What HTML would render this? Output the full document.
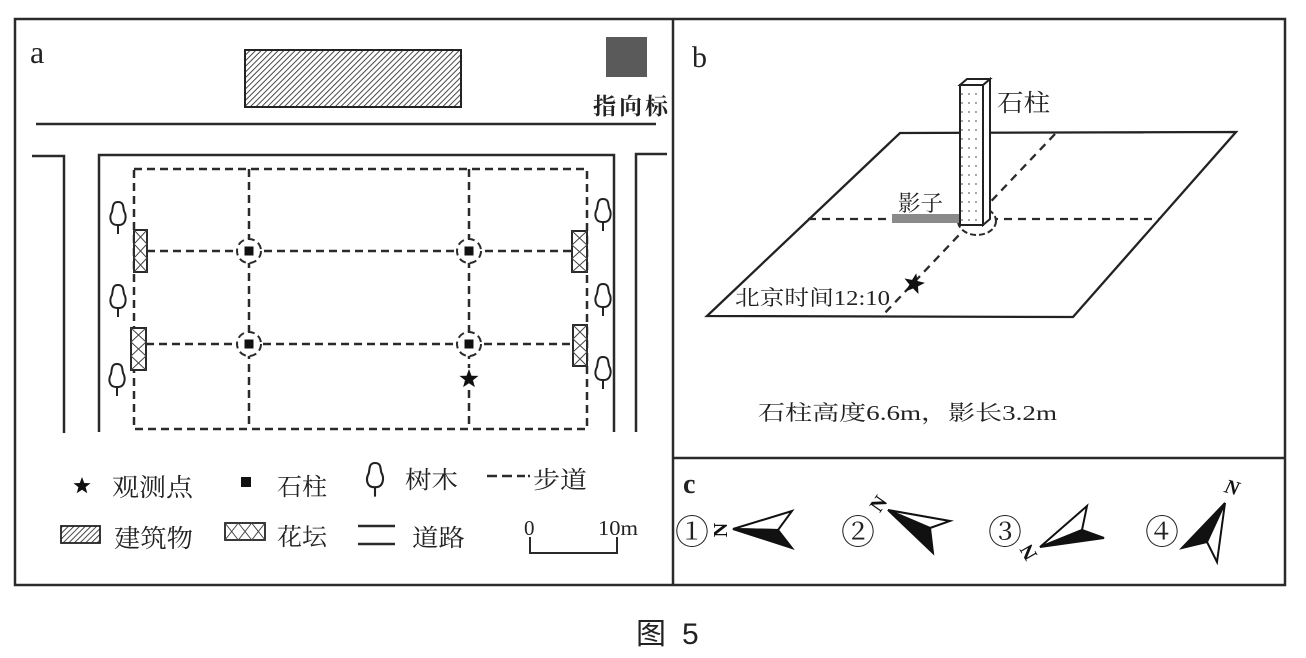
<!DOCTYPE html>
<html><head><meta charset="utf-8"><style>
html,body{margin:0;padding:0;background:#fff;}
svg{display:block;}
.cn{font-family:"Liberation Serif","Noto Serif CJK SC",serif;fill:#222;}
</style></head><body>
<svg width="1306" height="658" viewBox="0 0 1306 658" xmlns="http://www.w3.org/2000/svg">
<defs>
<pattern id="hatch" patternUnits="userSpaceOnUse" width="4" height="4" patternTransform="rotate(45)">
<rect width="4" height="4" fill="#fff"/><line x1="0" y1="0" x2="0" y2="4" stroke="#333" stroke-width="1.8"/>
</pattern>
<pattern id="dots" patternUnits="userSpaceOnUse" width="7" height="9">
<rect width="7" height="9" fill="#fff"/><circle cx="3" cy="4" r="0.9" fill="#666"/>
</pattern>
<polygon id="star" points="0,-1 0.25,-0.33 0.951,-0.309 0.4,0.13 0.588,0.809 0,0.42 -0.588,0.809 -0.4,0.13 -0.951,-0.309 -0.25,-0.33"/>
<path id="tree" d="M-1,23 C-8,23 -9,15 -6,10 C-5,6 -6,0 0,0 C6,0 5,5 6,9 C9,14 8,23 1,23 Z M0,23 L0,32" fill="#fff" stroke="#222" stroke-width="2"/>
<clipPath id="clipA"><rect x="15" y="19" width="658" height="566"/></clipPath>
</defs>

<!-- frames -->
<g fill="none" stroke="#2a2a2a" stroke-width="2.5">
<rect x="15" y="19" width="1270" height="566"/>
<line x1="673" y1="19" x2="673" y2="585"/>
<line x1="673" y1="458" x2="1285" y2="458"/>
</g>

<!-- PANEL A -->
<text x="30" y="63" font-family="Liberation Serif,serif" font-size="32" fill="#222">a</text>
<rect x="245" y="50" width="216" height="57" fill="url(#hatch)" stroke="#222" stroke-width="2"/>
<rect x="606" y="37" width="41" height="40" fill="#5a5a5a"/>
<g clip-path="url(#clipA)"><text x="593" y="114" font-family="Liberation Serif,Noto Serif CJK SC,serif" fill="#222" font-size="23" font-weight="bold" letter-spacing="3">指向标</text></g>

<g fill="none" stroke="#2a2a2a" stroke-width="2.5">
<line x1="36" y1="124" x2="656" y2="124"/>
<polyline points="32,156 64,156 64,433"/>
<polyline points="99,432 99,155 614,155 614,432"/>
<polyline points="667,154 636,154 636,432"/>
</g>

<g fill="none" stroke="#2a2a2a" stroke-width="2.5" stroke-dasharray="8 5">
<rect x="134" y="169" width="453" height="260"/>
<line x1="249" y1="169" x2="249" y2="429"/>
<line x1="469" y1="169" x2="469" y2="429"/>
<line x1="147" y1="251" x2="572" y2="251"/>
<line x1="146" y1="344" x2="573" y2="344"/>
</g>

<!-- pillars with dashed circles -->
<g>
<circle cx="249" cy="251" r="12" fill="#fff" stroke="#2a2a2a" stroke-width="2" stroke-dasharray="7 4"/>
<circle cx="469" cy="251" r="12" fill="#fff" stroke="#2a2a2a" stroke-width="2" stroke-dasharray="7 4"/>
<circle cx="249" cy="344" r="12" fill="#fff" stroke="#2a2a2a" stroke-width="2" stroke-dasharray="7 4"/>
<circle cx="469" cy="344" r="12" fill="#fff" stroke="#2a2a2a" stroke-width="2" stroke-dasharray="7 4"/>
<rect x="244.5" y="246.5" width="9" height="9" fill="#111"/>
<rect x="464.5" y="246.5" width="9" height="9" fill="#111"/>
<rect x="244.5" y="339.5" width="9" height="9" fill="#111"/>
<rect x="464.5" y="339.5" width="9" height="9" fill="#111"/>
</g>
<rect x="460" y="368" width="18" height="20" fill="#fff"/>
<use href="#star" transform="translate(469,379) scale(10)" fill="#111"/>

<!-- flowerbeds -->
<g fill="#fff" stroke="#2a2a2a" stroke-width="2">
<rect x="134" y="230" width="13" height="42"/>
<rect x="131" y="328" width="15" height="42"/>
<rect x="572" y="231" width="15" height="41"/>
<rect x="573" y="325" width="14" height="41"/>
</g>
<g fill="none" stroke="#444" stroke-width="1">
<path d="M134,230 L147,244 L134,258 L147,272 M147,230 L134,244 L147,258 L134,272"/>
<path d="M131,328 L146,342 L131,356 L146,370 M146,328 L131,342 L146,356 L131,370"/>
<path d="M572,231 L587,245 L572,258.5 L587,272 M587,231 L572,245 L587,258.5 L572,272"/>
<path d="M573,325 L587,339 L573,352 L587,366 M587,325 L573,339 L587,352 L573,366"/>
</g>

<!-- trees -->
<use href="#tree" transform="translate(118,202)"/>
<use href="#tree" transform="translate(118,285)"/>
<use href="#tree" transform="translate(117,364)"/>
<use href="#tree" transform="translate(603,199)"/>
<use href="#tree" transform="translate(603,284)"/>
<use href="#tree" transform="translate(603,357)"/>

<!-- legend -->
<use href="#star" transform="translate(82,486) scale(9)" fill="#111"/>
<text x="112" y="496" class="cn" font-size="25" textLength="81" lengthAdjust="spacingAndGlyphs">观测点</text>
<rect x="241" y="477" width="10" height="10" fill="#111"/>
<text x="277" y="495" class="cn" font-size="24" textLength="50" lengthAdjust="spacingAndGlyphs">石柱</text>
<use href="#tree" transform="translate(375,463) scale(1.05)"/>
<text x="405" y="488" class="cn" font-size="24" textLength="53" lengthAdjust="spacingAndGlyphs">树木</text>
<g stroke="#2a2a2a" stroke-width="2.5">
<line x1="487" y1="476" x2="497" y2="476"/>
<line x1="502" y1="476" x2="512" y2="476"/>
<line x1="517" y1="476" x2="525" y2="476"/>
<line x1="528" y1="476" x2="530" y2="476"/>
</g>
<text x="533" y="488" class="cn" font-size="24" textLength="54" lengthAdjust="spacingAndGlyphs">步道</text>

<rect x="61" y="526" width="39" height="17" fill="url(#hatch)" stroke="#222" stroke-width="1.8"/>
<text x="114" y="547" class="cn" font-size="25" textLength="79" lengthAdjust="spacingAndGlyphs">建筑物</text>
<rect x="225" y="523" width="40" height="17" fill="#fff" stroke="#222" stroke-width="1.8"/>
<path d="M225,523 L238.3,540 L251.7,523 L265,540 M225,540 L238.3,523 L251.7,540 L265,523" fill="none" stroke="#444" stroke-width="1"/>
<text x="277" y="545" class="cn" font-size="24" textLength="50" lengthAdjust="spacingAndGlyphs">花坛</text>
<g stroke="#2a2a2a" stroke-width="2.5">
<line x1="358" y1="526" x2="395" y2="526"/>
<line x1="358" y1="544" x2="395" y2="544"/>
</g>
<text x="412" y="546" class="cn" font-size="24" textLength="53" lengthAdjust="spacingAndGlyphs">道路</text>
<text x="524" y="535" font-family="Liberation Serif,serif" font-size="21" fill="#222">0</text>
<text x="598" y="535" font-family="Liberation Serif,serif" font-size="21" fill="#222" textLength="40" lengthAdjust="spacingAndGlyphs">10m</text>
<polyline points="530,537 530,553 617,553 617,537" fill="none" stroke="#2a2a2a" stroke-width="2"/>

<!-- PANEL B -->
<text x="692" y="67" font-family="Liberation Serif,serif" font-size="30" fill="#222">b</text>
<polygon points="900,133 1236,132 1073,317 707,316" fill="none" stroke="#222" stroke-width="2.3"/>
<g fill="none" stroke="#2a2a2a" stroke-width="2.3" stroke-dasharray="8 6">
<line x1="808" y1="219" x2="1159" y2="219"/>
<line x1="1055" y1="134" x2="882" y2="316"/>
</g>
<ellipse cx="977" cy="221" rx="19" ry="14" fill="#fff" stroke="#2a2a2a" stroke-width="2" stroke-dasharray="6 3"/>
<rect x="892" y="214" width="68" height="9" fill="#8a8a8a"/>
<!-- pillar -->
<polygon points="983,85 990,79 990,219 983,225" fill="url(#dots)" stroke="#222" stroke-width="2"/>
<polygon points="960,85 967,79 990,79 983,85" fill="#fff" stroke="#222" stroke-width="2"/>
<rect x="960" y="85" width="23" height="140" fill="url(#dots)" stroke="#222" stroke-width="2"/>
<text x="997" y="111" class="cn" font-size="24" textLength="53" lengthAdjust="spacingAndGlyphs">石柱</text>
<text x="898" y="211" class="cn" font-size="22" textLength="45" lengthAdjust="spacingAndGlyphs">影子</text>
<use href="#star" transform="translate(914,284) rotate(12) scale(11)" fill="#111"/>
<text x="735" y="305" class="cn" font-size="21" textLength="155" lengthAdjust="spacingAndGlyphs">北京时间12:10</text>
<text x="758" y="420" class="cn" font-size="21" textLength="299" lengthAdjust="spacingAndGlyphs">石柱高度6.6m，影长3.2m</text>

<!-- PANEL C -->
<text x="683" y="493" font-family="Liberation Serif,serif" font-size="28" font-weight="bold" fill="#222">c</text>
<g class="cn" font-size="34" text-anchor="middle">
<text x="692" y="544">①</text>
<text x="858" y="544">②</text>
<text x="1005" y="544">③</text>
<text x="1162" y="544">④</text>
</g>
<g stroke="#111" stroke-width="2" stroke-linejoin="miter">
<!-- arrow 1 -->
<polygon points="733,529 792,511 778,530" fill="#fff"/>
<polygon points="733,529 778,530 792,548" fill="#111"/>
<!-- arrow 2 -->
<polygon points="888,510 950,521 930,528" fill="#fff"/>
<polygon points="888,510 930,528 933,553" fill="#111"/>
<!-- arrow 3 -->
<polygon points="1040,547 1087,506 1082,530" fill="#fff"/>
<polygon points="1040,547 1082,530 1104,538" fill="#111"/>
<!-- arrow 4 -->
<polygon points="1225,503 1182,548 1207,542" fill="#111"/>
<polygon points="1225,503 1207,542 1217,562" fill="#fff"/>
</g>
<g font-family="Liberation Serif,serif" font-size="20" fill="#111" text-anchor="middle" font-weight="bold">
<text transform="translate(721,530) rotate(-90)" dominant-baseline="central">N</text>
<text transform="translate(879,504) rotate(-55)" dominant-baseline="central">N</text>
<text transform="translate(1029,552) rotate(-120)" dominant-baseline="central">N</text>
<text transform="translate(1232,488) rotate(15)" dominant-baseline="central" font-style="italic">N</text>
</g>

<!-- caption -->
<text y="644" font-family="Liberation Sans,Noto Sans CJK SC,sans-serif" font-size="30" fill="#222"><tspan x="636">图</tspan><tspan x="682">5</tspan></text>
</svg>
</body></html>
